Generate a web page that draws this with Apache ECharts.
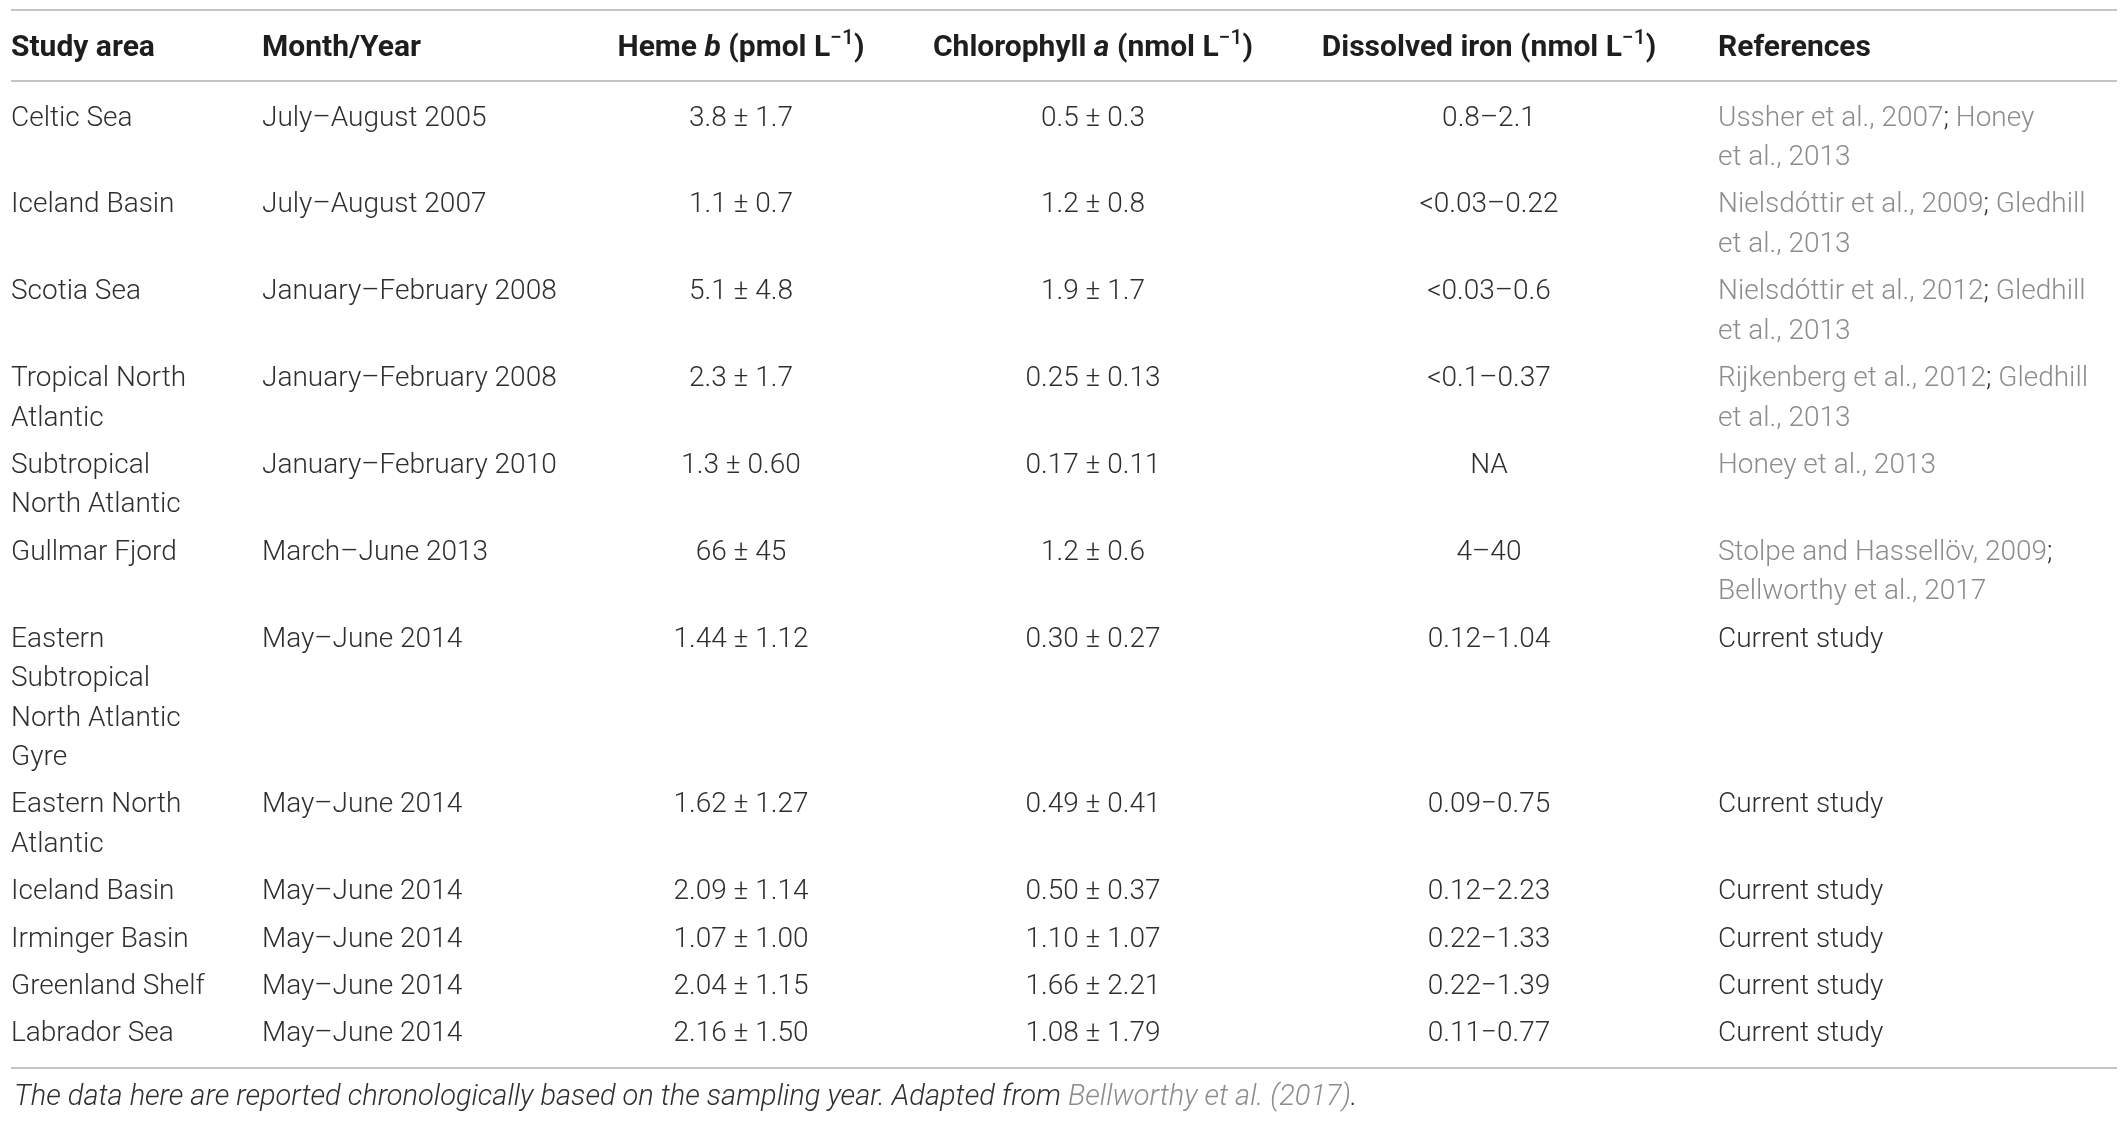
<!DOCTYPE html>
<html>
<head>
<meta charset="utf-8">
<script src="https://cdn.jsdelivr.net/npm/echarts@6/dist/echarts.min.js"></script>
<style>
html, body { margin: 0; background: #fff; }
#main { width: 2128px; height: 1122px; }
</style>
</head>
<body>
<div id="main"></div>
<script>
// table content, one array per column
const areas = ['Celtic Sea', 'Iceland Basin', 'Scotia Sea', 'Tropical North\nAtlantic', 'Subtropical\nNorth Atlantic',
	'Gullmar Fjord', 'Eastern\nSubtropical\nNorth Atlantic\nGyre', 'Eastern North\nAtlantic', 'Iceland Basin',
	'Irminger Basin', 'Greenland Shelf', 'Labrador Sea'];
const months = ['July–August 2005', 'July–August 2007', 'January–February 2008', 'January–February 2008',
	'January–February 2010', 'March–June 2013', 'May–June 2014', 'May–June 2014', 'May–June 2014',
	'May–June 2014', 'May–June 2014', 'May–June 2014'];
const hemeB = ['3.8 ± 1.7', '1.1 ± 0.7', '5.1 ± 4.8', '2.3 ± 1.7', '1.3 ± 0.60', '66 ± 45', '1.44 ± 1.12',
	'1.62 ± 1.27', '2.09 ± 1.14', '1.07 ± 1.00', '2.04 ± 1.15', '2.16 ± 1.50'];
const chlA = ['0.5 ± 0.3', '1.2 ± 0.8', '1.9 ± 1.7', '0.25 ± 0.13', '0.17 ± 0.11', '1.2 ± 0.6', '0.30 ± 0.27',
	'0.49 ± 0.41', '0.50 ± 0.37', '1.10 ± 1.07', '1.66 ± 2.21', '1.08 ± 1.79'];
const dissolvedFe = ['0.8–2.1', '<0.03–0.22', '<0.03–0.6', '<0.1–0.37', 'NA', '4–40', '0.12−1.04', '0.09−0.75',
	'0.12−2.23', '0.22−1.33', '0.22−1.39', '0.11−0.77'];
const refs = ['Ussher et al., 2007; Honey\net al., 2013', 'Nielsdóttir et al., 2009; Gledhill\net al., 2013',
	'Nielsdóttir et al., 2012; Gledhill\net al., 2013', 'Rijkenberg et al., 2012; Gledhill\net al., 2013',
	'Honey et al., 2013', 'Stolpe and Hassellöv, 2009;\nBellworthy et al., 2017', 'Current study',
	'Current study', 'Current study', 'Current study', 'Current study', 'Current study'];

const headName = ['Study area', 'Month/Year', 'Heme', 'Chlorophyll', 'Dissolved iron', 'References'];
const headSymbol = ['', '', 'b', 'a', '', ''];
const headUnit = ['', '', 'pmol L', 'nmol L', 'nmol L', ''];

const footNote = 'The data here are reported chronologically based on the sampling year. Adapted from ';
const footRef = 'Bellworthy et al. (2017)';

const columns = [areas, months, hemeB, chlA, dissolvedFe, refs];

// layout (page pixels for x, text lines for y)
const COLS = [
	{ x: 11, align: 'left' },
	{ x: 262, align: 'left' },
	{ x: 741, align: 'center' },
	{ x: 1093, align: 'center' },
	{ x: 1489, align: 'center' },
	{ x: 1718, align: 'left' }
];
const GAP = 0.2;      // extra space per row, in lines
const PAD = 0.3;      // space under header rule / above bottom rule
const SHIFT = 0.05;   // nudge text down to match baseline
const HEAD_TOP = -1.8;
const HEAD_MID = -0.82;
const LINE_PX = 1058 / 26.8;

const FONT = 'Roboto';
const DARK = '#2e2e2e';
const LINK = '#8c8c8c';
const HEAD = '#1e1e1e';

const nLines = s => s.split('\n').length;
const rowLines = areas.map((_, i) => Math.max(...columns.map(c => nLines(c[i]))));

const rowData = [];
let pos = PAD;
rowLines.forEach((n, i) => {
	rowData.push([i, pos + GAP / 2 + SHIFT]);
	pos += n + GAP;
});
const bodyEnd = pos + PAD;
const axisMax = bodyEnd + 0.5;

function refText(s) {
	if (s === 'Current study') return '{d|' + s + '}';
	return s.split('\n').map(line =>
		line.split(';').map(p => p ? '{c|' + p + '}' : '').join('{d|;}')
	).join('\n');
}

function headText(k) {
	let t = '{h|' + headName[k] + '}';
	if (headSymbol[k]) t += '{h| }{hi|' + headSymbol[k] + '}';
	if (headUnit[k]) t += '{h| (' + headUnit[k] + '}{s|−1}{h|)}';
	return t;
}

const myChart = echarts.init(document.getElementById('main'), null, { renderer: 'canvas' });

const option = {
	animation: false,
	title: {
		left: 9,
		top: 1078,
		text: '{n|' + footNote + '}{g|' + footRef + '}{n|.}',
		textStyle: {
			rich: {
				n: { fontFamily: FONT, fontWeight: 300, fontStyle: 'italic', fontSize: 29, color: DARK },
				g: { fontFamily: FONT, fontWeight: 300, fontStyle: 'italic', fontSize: 29, color: LINK }
			}
		}
	},
	grid: { left: 11, right: 11, top: 10, height: LINE_PX * (axisMax - HEAD_TOP) },
	xAxis: { type: 'value', min: 11, max: 2117, show: false },
	yAxis: { type: 'value', inverse: true, min: HEAD_TOP, max: axisMax, show: false },
	series: [
		{
			type: 'custom',
			name: 'header',
			data: [[0, HEAD_MID]],
			renderItem(params, api) {
				const y = api.coord([11, api.value(1)])[1];
				return {
					type: 'group',
					children: COLS.map((c, k) => ({
						type: 'text',
						style: {
							x: api.coord([c.x, 0])[0], y: y,
							text: headText(k),
							align: c.align, verticalAlign: 'middle',
							rich: {
								h: { fontFamily: FONT, fontWeight: 'bold', fontSize: 30, lineHeight: 40, fill: HEAD },
								hi: { fontFamily: FONT, fontWeight: 'bold', fontStyle: 'italic', fontSize: 30, lineHeight: 40, fill: HEAD },
								s: { fontFamily: FONT, fontWeight: 500, fontSize: 21, lineHeight: 22, verticalAlign: 'top', fill: HEAD }
							}
						}
					}))
				};
			},
			markLine: {
				silent: true,
				symbol: 'none',
				label: { show: false },
				lineStyle: { color: '#c4c4c4', width: 2, type: 'solid' },
				data: [{ yAxis: HEAD_TOP }, { yAxis: 0 }, { yAxis: bodyEnd }]
			}
		},
		{
			type: 'custom',
			name: 'body',
			data: rowData,
			renderItem(params, api) {
				const i = api.value(0);
				const top = api.coord([11, api.value(1)])[1];
				const lh = api.size([0, 1])[1];
				return {
					type: 'group',
					children: COLS.map((c, k) => ({
						type: 'text',
						style: {
							x: api.coord([c.x, 0])[0], y: top,
							text: k === 5 ? refText(columns[k][i]) : columns[k][i],
							align: c.align, verticalAlign: 'top',
							fontFamily: FONT, fontWeight: 300, fontSize: 28,
							lineHeight: lh, fill: DARK,
							rich: {
								c: { fontFamily: FONT, fontWeight: 300, fontSize: 28, lineHeight: lh, fill: LINK },
								d: { fontFamily: FONT, fontWeight: 300, fontSize: 28, lineHeight: lh, fill: DARK }
							}
						}
					}))
				};
			}
		}
	]
};

myChart.setOption(option);
</script>
</body>
</html>
